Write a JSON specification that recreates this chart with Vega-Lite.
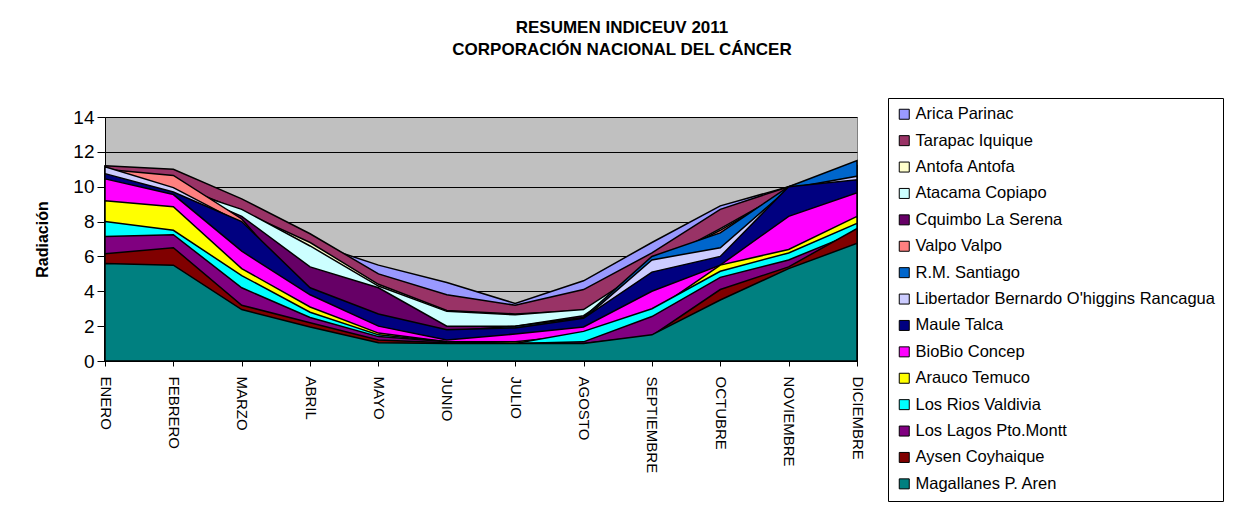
{
  "$schema": "https://vega.github.io/schema/vega-lite/v6.json",
  "autosize": {"type": "none"},
  "width": 752,
  "height": 244,
  "padding": {"left": 105, "top": 117, "right": 379, "bottom": 152},
  "background": "white",
  "title": {
    "text": ["RESUMEN INDICEUV 2011", "CORPORACIÓN NACIONAL DEL CÁNCER"],
    "font": "Liberation Sans",
    "fontSize": 17,
    "fontWeight": "bold",
    "color": "black",
    "lineHeight": 22,
    "anchor": "middle",
    "dx": 141,
    "offset": 39
  },
  "data": {
    "values": [
      {"r":"Arica Parinac","m":"ENERO","v":11.0},{"r":"Arica Parinac","m":"FEBRERO","v":10.6},{"r":"Arica Parinac","m":"MARZO","v":8.9},{"r":"Arica Parinac","m":"ABRIL","v":6.8},{"r":"Arica Parinac","m":"MAYO","v":5.5},{"r":"Arica Parinac","m":"JUNIO","v":4.5},{"r":"Arica Parinac","m":"JULIO","v":3.3},{"r":"Arica Parinac","m":"AGOSTO","v":4.6},{"r":"Arica Parinac","m":"SEPTIEMBRE","v":6.8},{"r":"Arica Parinac","m":"OCTUBRE","v":8.9},{"r":"Arica Parinac","m":"NOVIEMBRE","v":10.0},{"r":"Arica Parinac","m":"DICIEMBRE","v":11.2},
      {"r":"Tarapac Iquique","m":"ENERO","v":11.2},{"r":"Tarapac Iquique","m":"FEBRERO","v":11.0},{"r":"Tarapac Iquique","m":"MARZO","v":9.3},{"r":"Tarapac Iquique","m":"ABRIL","v":7.3},{"r":"Tarapac Iquique","m":"MAYO","v":5.0},{"r":"Tarapac Iquique","m":"JUNIO","v":3.8},{"r":"Tarapac Iquique","m":"JULIO","v":3.2},{"r":"Tarapac Iquique","m":"AGOSTO","v":4.1},{"r":"Tarapac Iquique","m":"SEPTIEMBRE","v":6.2},{"r":"Tarapac Iquique","m":"OCTUBRE","v":8.7},{"r":"Tarapac Iquique","m":"NOVIEMBRE","v":10.0},{"r":"Tarapac Iquique","m":"DICIEMBRE","v":10.5},
      {"r":"Antofa Antofa","m":"ENERO","v":10.9},{"r":"Antofa Antofa","m":"FEBRERO","v":10.2},{"r":"Antofa Antofa","m":"MARZO","v":8.6},{"r":"Antofa Antofa","m":"ABRIL","v":6.8},{"r":"Antofa Antofa","m":"MAYO","v":4.4},{"r":"Antofa Antofa","m":"JUNIO","v":2.9},{"r":"Antofa Antofa","m":"JULIO","v":2.7},{"r":"Antofa Antofa","m":"AGOSTO","v":2.9},{"r":"Antofa Antofa","m":"SEPTIEMBRE","v":5.4},{"r":"Antofa Antofa","m":"OCTUBRE","v":7.5},{"r":"Antofa Antofa","m":"NOVIEMBRE","v":9.8},{"r":"Antofa Antofa","m":"DICIEMBRE","v":10.4},
      {"r":"Atacama Copiapo","m":"ENERO","v":10.9},{"r":"Atacama Copiapo","m":"FEBRERO","v":10.0},{"r":"Atacama Copiapo","m":"MARZO","v":8.7},{"r":"Atacama Copiapo","m":"ABRIL","v":6.6},{"r":"Atacama Copiapo","m":"MAYO","v":4.3},{"r":"Atacama Copiapo","m":"JUNIO","v":2.85},{"r":"Atacama Copiapo","m":"JULIO","v":2.65},{"r":"Atacama Copiapo","m":"AGOSTO","v":2.95},{"r":"Atacama Copiapo","m":"SEPTIEMBRE","v":5.5},{"r":"Atacama Copiapo","m":"OCTUBRE","v":7.6},{"r":"Atacama Copiapo","m":"NOVIEMBRE","v":9.8},{"r":"Atacama Copiapo","m":"DICIEMBRE","v":10.4},
      {"r":"Cquimbo La Serena","m":"ENERO","v":10.8},{"r":"Cquimbo La Serena","m":"FEBRERO","v":10.0},{"r":"Cquimbo La Serena","m":"MARZO","v":8.3},{"r":"Cquimbo La Serena","m":"ABRIL","v":5.4},{"r":"Cquimbo La Serena","m":"MAYO","v":4.2},{"r":"Cquimbo La Serena","m":"JUNIO","v":2.0},{"r":"Cquimbo La Serena","m":"JULIO","v":2.0},{"r":"Cquimbo La Serena","m":"AGOSTO","v":2.6},{"r":"Cquimbo La Serena","m":"SEPTIEMBRE","v":5.2},{"r":"Cquimbo La Serena","m":"OCTUBRE","v":7.0},{"r":"Cquimbo La Serena","m":"NOVIEMBRE","v":9.7},{"r":"Cquimbo La Serena","m":"DICIEMBRE","v":10.3},
      {"r":"Valpo Valpo","m":"ENERO","v":11.0},{"r":"Valpo Valpo","m":"FEBRERO","v":10.65},{"r":"Valpo Valpo","m":"MARZO","v":8.15},{"r":"Valpo Valpo","m":"ABRIL","v":3.7},{"r":"Valpo Valpo","m":"MAYO","v":2.3},{"r":"Valpo Valpo","m":"JUNIO","v":1.5},{"r":"Valpo Valpo","m":"JULIO","v":1.8},{"r":"Valpo Valpo","m":"AGOSTO","v":2.3},{"r":"Valpo Valpo","m":"SEPTIEMBRE","v":5.5},{"r":"Valpo Valpo","m":"OCTUBRE","v":7.5},{"r":"Valpo Valpo","m":"NOVIEMBRE","v":9.8},{"r":"Valpo Valpo","m":"DICIEMBRE","v":10.4},
      {"r":"R.M. Santiago","m":"ENERO","v":11.0},{"r":"R.M. Santiago","m":"FEBRERO","v":9.8},{"r":"R.M. Santiago","m":"MARZO","v":7.9},{"r":"R.M. Santiago","m":"ABRIL","v":3.9},{"r":"R.M. Santiago","m":"MAYO","v":2.6},{"r":"R.M. Santiago","m":"JUNIO","v":1.7},{"r":"R.M. Santiago","m":"JULIO","v":2.0},{"r":"R.M. Santiago","m":"AGOSTO","v":2.5},{"r":"R.M. Santiago","m":"SEPTIEMBRE","v":6.0},{"r":"R.M. Santiago","m":"OCTUBRE","v":7.35},{"r":"R.M. Santiago","m":"NOVIEMBRE","v":10.0},{"r":"R.M. Santiago","m":"DICIEMBRE","v":11.5},
      {"r":"Libertador Bernardo O'higgins Rancagua","m":"ENERO","v":11.15},{"r":"Libertador Bernardo O'higgins Rancagua","m":"FEBRERO","v":9.95},{"r":"Libertador Bernardo O'higgins Rancagua","m":"MARZO","v":7.9},{"r":"Libertador Bernardo O'higgins Rancagua","m":"ABRIL","v":4.0},{"r":"Libertador Bernardo O'higgins Rancagua","m":"MAYO","v":2.4},{"r":"Libertador Bernardo O'higgins Rancagua","m":"JUNIO","v":1.6},{"r":"Libertador Bernardo O'higgins Rancagua","m":"JULIO","v":1.9},{"r":"Libertador Bernardo O'higgins Rancagua","m":"AGOSTO","v":2.4},{"r":"Libertador Bernardo O'higgins Rancagua","m":"SEPTIEMBRE","v":5.8},{"r":"Libertador Bernardo O'higgins Rancagua","m":"OCTUBRE","v":6.5},{"r":"Libertador Bernardo O'higgins Rancagua","m":"NOVIEMBRE","v":9.9},{"r":"Libertador Bernardo O'higgins Rancagua","m":"DICIEMBRE","v":10.6},
      {"r":"Maule Talca","m":"ENERO","v":10.75},{"r":"Maule Talca","m":"FEBRERO","v":9.7},{"r":"Maule Talca","m":"MARZO","v":8.0},{"r":"Maule Talca","m":"ABRIL","v":4.2},{"r":"Maule Talca","m":"MAYO","v":2.7},{"r":"Maule Talca","m":"JUNIO","v":1.8},{"r":"Maule Talca","m":"JULIO","v":1.9},{"r":"Maule Talca","m":"AGOSTO","v":2.45},{"r":"Maule Talca","m":"SEPTIEMBRE","v":5.1},{"r":"Maule Talca","m":"OCTUBRE","v":6.0},{"r":"Maule Talca","m":"NOVIEMBRE","v":10.0},{"r":"Maule Talca","m":"DICIEMBRE","v":10.4},
      {"r":"BioBio Concep","m":"ENERO","v":10.45},{"r":"BioBio Concep","m":"FEBRERO","v":9.55},{"r":"BioBio Concep","m":"MARZO","v":6.3},{"r":"BioBio Concep","m":"ABRIL","v":3.8},{"r":"BioBio Concep","m":"MAYO","v":2.0},{"r":"BioBio Concep","m":"JUNIO","v":1.2},{"r":"BioBio Concep","m":"JULIO","v":1.55},{"r":"BioBio Concep","m":"AGOSTO","v":1.95},{"r":"BioBio Concep","m":"SEPTIEMBRE","v":4.0},{"r":"BioBio Concep","m":"OCTUBRE","v":5.5},{"r":"BioBio Concep","m":"NOVIEMBRE","v":8.3},{"r":"BioBio Concep","m":"DICIEMBRE","v":9.65},
      {"r":"Arauco Temuco","m":"ENERO","v":9.2},{"r":"Arauco Temuco","m":"FEBRERO","v":8.85},{"r":"Arauco Temuco","m":"MARZO","v":5.3},{"r":"Arauco Temuco","m":"ABRIL","v":3.1},{"r":"Arauco Temuco","m":"MAYO","v":1.6},{"r":"Arauco Temuco","m":"JUNIO","v":1.1},{"r":"Arauco Temuco","m":"JULIO","v":1.1},{"r":"Arauco Temuco","m":"AGOSTO","v":1.5},{"r":"Arauco Temuco","m":"SEPTIEMBRE","v":2.8},{"r":"Arauco Temuco","m":"OCTUBRE","v":5.5},{"r":"Arauco Temuco","m":"NOVIEMBRE","v":6.4},{"r":"Arauco Temuco","m":"DICIEMBRE","v":8.3},
      {"r":"Los Rios Valdivia","m":"ENERO","v":8.0},{"r":"Los Rios Valdivia","m":"FEBRERO","v":7.5},{"r":"Los Rios Valdivia","m":"MARZO","v":4.9},{"r":"Los Rios Valdivia","m":"ABRIL","v":2.8},{"r":"Los Rios Valdivia","m":"MAYO","v":1.5},{"r":"Los Rios Valdivia","m":"JUNIO","v":1.1},{"r":"Los Rios Valdivia","m":"JULIO","v":1.0},{"r":"Los Rios Valdivia","m":"AGOSTO","v":1.7},{"r":"Los Rios Valdivia","m":"SEPTIEMBRE","v":3.0},{"r":"Los Rios Valdivia","m":"OCTUBRE","v":5.15},{"r":"Los Rios Valdivia","m":"NOVIEMBRE","v":6.2},{"r":"Los Rios Valdivia","m":"DICIEMBRE","v":7.9},
      {"r":"Los Lagos Pto.Montt","m":"ENERO","v":7.15},{"r":"Los Lagos Pto.Montt","m":"FEBRERO","v":7.25},{"r":"Los Lagos Pto.Montt","m":"MARZO","v":4.2},{"r":"Los Lagos Pto.Montt","m":"ABRIL","v":2.5},{"r":"Los Lagos Pto.Montt","m":"MAYO","v":1.4},{"r":"Los Lagos Pto.Montt","m":"JUNIO","v":1.1},{"r":"Los Lagos Pto.Montt","m":"JULIO","v":1.0},{"r":"Los Lagos Pto.Montt","m":"AGOSTO","v":1.1},{"r":"Los Lagos Pto.Montt","m":"SEPTIEMBRE","v":2.55},{"r":"Los Lagos Pto.Montt","m":"OCTUBRE","v":4.8},{"r":"Los Lagos Pto.Montt","m":"NOVIEMBRE","v":5.8},{"r":"Los Lagos Pto.Montt","m":"DICIEMBRE","v":7.4},
      {"r":"Aysen Coyhaique","m":"ENERO","v":6.15},{"r":"Aysen Coyhaique","m":"FEBRERO","v":6.5},{"r":"Aysen Coyhaique","m":"MARZO","v":3.2},{"r":"Aysen Coyhaique","m":"ABRIL","v":2.2},{"r":"Aysen Coyhaique","m":"MAYO","v":1.2},{"r":"Aysen Coyhaique","m":"JUNIO","v":1.05},{"r":"Aysen Coyhaique","m":"JULIO","v":1.0},{"r":"Aysen Coyhaique","m":"AGOSTO","v":1.0},{"r":"Aysen Coyhaique","m":"SEPTIEMBRE","v":1.45},{"r":"Aysen Coyhaique","m":"OCTUBRE","v":4.1},{"r":"Aysen Coyhaique","m":"NOVIEMBRE","v":5.4},{"r":"Aysen Coyhaique","m":"DICIEMBRE","v":7.6},
      {"r":"Magallanes P. Aren","m":"ENERO","v":5.6},{"r":"Magallanes P. Aren","m":"FEBRERO","v":5.5},{"r":"Magallanes P. Aren","m":"MARZO","v":2.95},{"r":"Magallanes P. Aren","m":"ABRIL","v":1.95},{"r":"Magallanes P. Aren","m":"MAYO","v":1.05},{"r":"Magallanes P. Aren","m":"JUNIO","v":1.0},{"r":"Magallanes P. Aren","m":"JULIO","v":1.0},{"r":"Magallanes P. Aren","m":"AGOSTO","v":1.0},{"r":"Magallanes P. Aren","m":"SEPTIEMBRE","v":1.5},{"r":"Magallanes P. Aren","m":"OCTUBRE","v":3.5},{"r":"Magallanes P. Aren","m":"NOVIEMBRE","v":5.3},{"r":"Magallanes P. Aren","m":"DICIEMBRE","v":6.75}
    ]
  },
  "mark": {"type": "area", "stroke": "black", "strokeWidth": 1.5, "opacity": 1, "fillOpacity": 1, "interpolate": "linear"},
  "encoding": {
    "x": {
      "field": "m", "type": "ordinal",
      "sort": ["ENERO","FEBRERO","MARZO","ABRIL","MAYO","JUNIO","JULIO","AGOSTO","SEPTIEMBRE","OCTUBRE","NOVIEMBRE","DICIEMBRE"],
      "scale": {"padding": 0},
      "axis": {"title": null, "labelAngle": 90, "labelAlign": "left", "labelBaseline": "middle", "labelFontSize": 15, "labelFont": "Liberation Sans", "labelColor": "black", "labelPadding": 10, "tickSize": 5, "tickColor": "black", "domainColor": "black", "grid": false}
    },
    "y": {
      "field": "v", "type": "quantitative", "stack": null,
      "scale": {"domain": [0, 14], "nice": false},
      "axis": {"title": "Radiación", "titleFont": "Liberation Sans", "titleFontSize": 16, "titleFontWeight": "bold", "titleColor": "black", "titlePadding": 22, "values": [0,2,4,6,8,10,12,14], "labelFontSize": 19, "labelFont": "Liberation Sans", "labelColor": "black", "labelPadding": 3, "tickSize": 8, "tickColor": "black", "domainColor": "black", "grid": true, "gridColor": "black", "gridWidth": 1}
    },
    "color": {
      "field": "r", "type": "nominal",
      "scale": {
        "domain": ["Arica Parinac","Tarapac Iquique","Antofa Antofa","Atacama Copiapo","Cquimbo La Serena","Valpo Valpo","R.M. Santiago","Libertador Bernardo O'higgins Rancagua","Maule Talca","BioBio Concep","Arauco Temuco","Los Rios Valdivia","Los Lagos Pto.Montt","Aysen Coyhaique","Magallanes P. Aren"],
        "range": ["#9999FF","#993366","#FFFFCC","#CCFFFF","#660066","#FF8080","#0066CC","#CCCCFF","#000080","#FF00FF","#FFFF00","#00FFFF","#800080","#800000","#008080"]
      },
      "legend": {
        "title": null, "orient": "none", "legendX": 783, "legendY": -19,
        "symbolType": "square", "symbolSize": 100, "symbolStrokeColor": "black", "symbolStrokeWidth": 1,
        "labelFont": "Liberation Sans", "labelFontSize": 16.5, "labelColor": "black", "labelOffset": 3, "labelLimit": 400,
        "rowPadding": 9.4, "padding": 8, "strokeColor": "black", "fillColor": "white"
      }
    }
  },
  "config": {
    "view": {"fill": "#C0C0C0", "stroke": "#808080", "strokeWidth": 1}
  }
}
